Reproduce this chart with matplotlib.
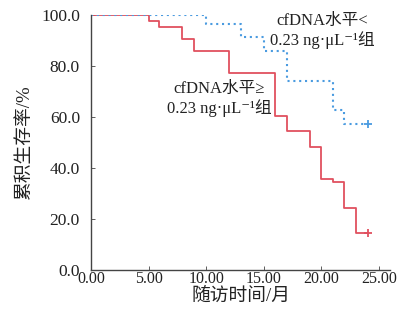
import matplotlib.pyplot as plt

plt.rcParams['font.family'] = ['Liberation Serif', 'Noto Sans CJK SC', 'DejaVu Serif']

# Kaplan-Meier steps (months, cumulative survival %)
t_high = [0, 5.0, 5.9, 7.9, 8.9, 12.0, 16.0, 17.0, 19.0, 20.0, 21.0, 22.0, 23.0, 24.0]
s_high = [100.0, 97.6, 95.2, 90.5, 85.9, 77.1, 60.4, 54.6, 48.1, 35.7, 34.5, 24.4, 14.4, 14.4]

t_low = [0, 10.0, 13.0, 15.0, 17.0, 21.0, 22.0, 24.0]
s_low = [100.0, 96.3, 91.3, 86.0, 74.2, 62.7, 57.3, 57.3]

xticks = [0, 5, 10, 15, 20, 25]
yticks = [0, 20, 40, 60, 80, 100]

red = '#e0505f'
blue = '#4a9be0'

fig = plt.figure(figsize=(4.0, 3.24), dpi=100)
ax = fig.add_axes([0.2275, 0.1667, 0.7475, 0.7870])

ax.step(t_high, s_high, where='post', color=red, lw=1.3)
ax.plot(t_high[-1], s_high[-1], marker='+', color=red, ms=6, mew=1.3)
ax.step(t_low, s_low, where='post', color=blue, lw=1.5, linestyle=(0, (1, 1.8)))
ax.plot(t_low[-1], s_low[-1], marker='+', color=blue, ms=6, mew=1.3)

ax.set_xlim(0, 25.95)
ax.set_ylim(0, 100)
ax.set_xticks(xticks)
ax.set_xticklabels(['%.2f' % v for v in xticks])
ax.set_yticks(yticks)
ax.set_yticklabels(['%.1f' % v for v in yticks])
ax.tick_params(direction='in', length=3, width=0.6, colors='#444444', labelcolor='#222222')
ax.tick_params(axis='x', labelsize=11.5, pad=1)
ax.tick_params(axis='y', labelsize=12.5, pad=8)
for s in ['top', 'right']:
    ax.spines[s].set_visible(False)
for s in ['left', 'bottom']:
    ax.spines[s].set_color('#444444')
    ax.spines[s].set_linewidth(1.0)

ax.set_xlabel('随访时间/月', fontsize=13.5, labelpad=0, color='#222222')
ax.set_ylabel('累积生存率/%', fontsize=13.5, labelpad=6, color='#222222')

ax.text(20.1, 93.7, 'cfDNA水平<\n0.23 ng·μL⁻¹组', fontsize=12, ha='center', va='center',
        linespacing=1.15, color='#222222')
ax.text(11.1, 66.9, 'cfDNA水平≥\n0.23 ng·μL⁻¹组', fontsize=12, ha='center', va='center',
        linespacing=1.15, color='#222222')

fig.savefig('out.png', dpi=100)
